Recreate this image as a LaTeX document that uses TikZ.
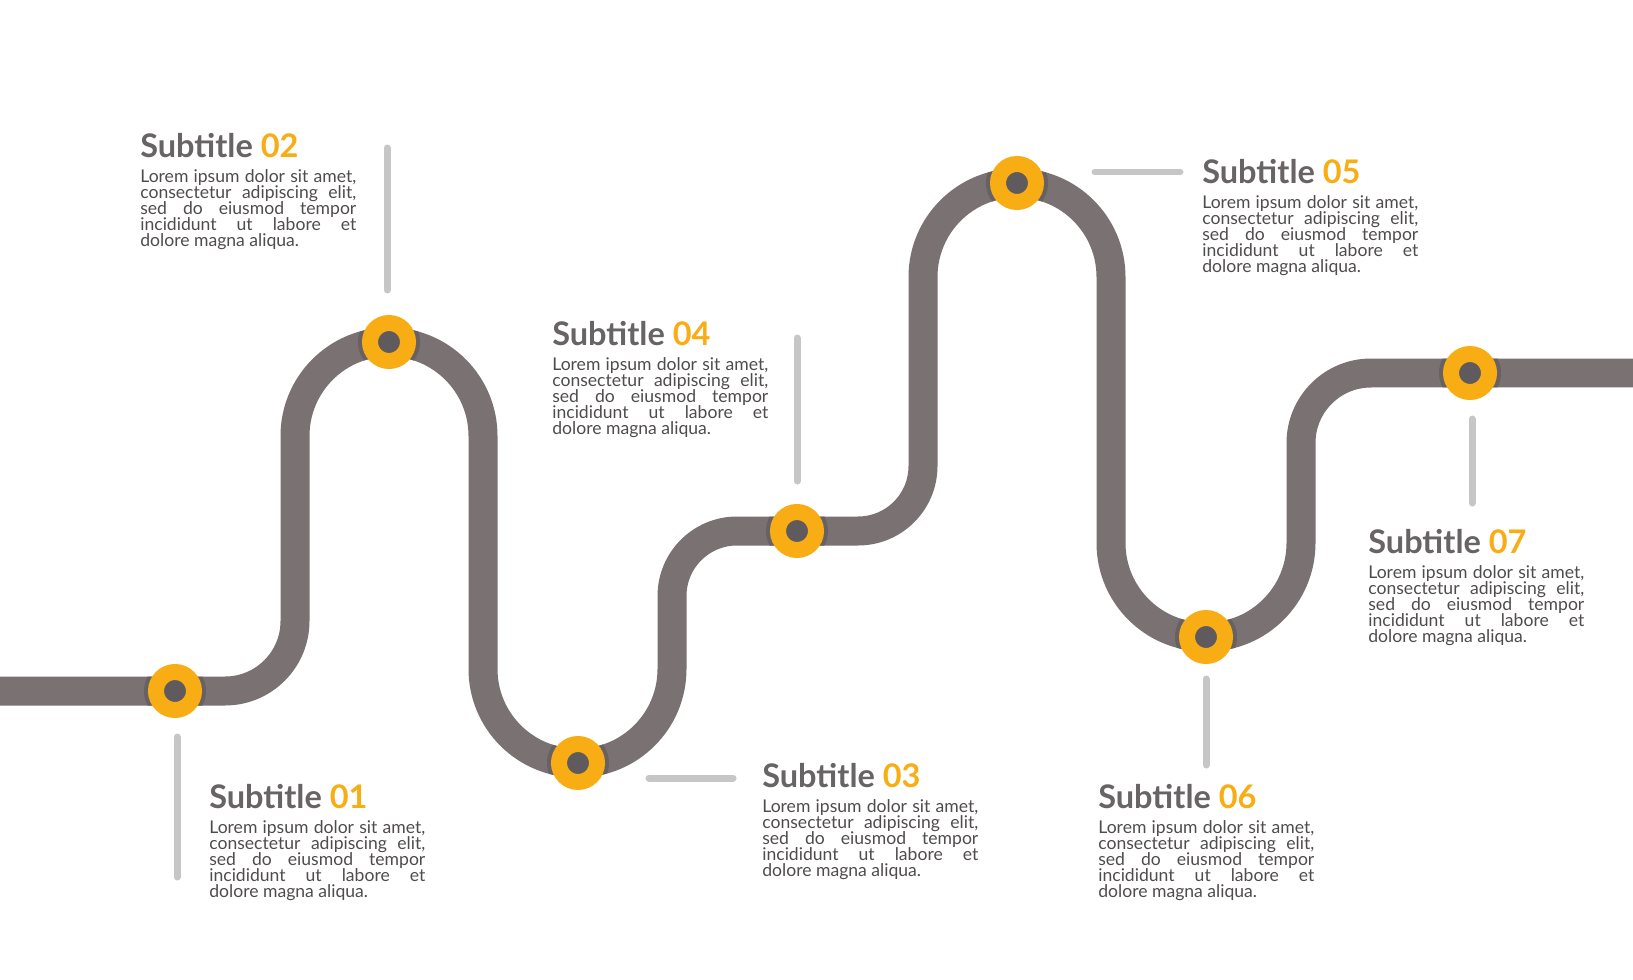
\documentclass[tikz,border=0pt]{standalone}
\usepackage{fontspec}
\setmainfont{Lato}
\usetikzlibrary{positioning}
\definecolor{roadgrey}{RGB}{122,113,115}
\definecolor{halogrey}{RGB}{104,97,99}
\definecolor{dotgrey}{RGB}{94,90,93}
\definecolor{ringorange}{RGB}{249,173,20}
\definecolor{tickgrey}{RGB}{198,198,198}
\definecolor{titlegrey}{RGB}{104,100,101}
\definecolor{bodygrey}{RGB}{80,76,78}
\tolerance=9999
\hbadness=10000
\hfuzz=20pt
\lineskiplimit=-20pt
\normallineskiplimit=-20pt

\newcommand\roadline{(-30,691) [rounded corners=1.4cm] -- (295,691) [rounded corners=1.88cm] -- (295,342) -- (483,342) -- (483,763) -- (672,763) [rounded corners=1.3cm] -- (672,531) -- (923,531) [rounded corners=1.88cm] -- (923,183) -- (1111,183) -- (1111,637) -- (1301,637) [rounded corners=1.4cm] -- (1301,373) -- (1700,373)}
\newcommand\lorem{Lorem ipsum dolor sit amet,\linebreak consectetur adipiscing elit,\linebreak sed do eiusmod tempor\linebreak incididunt ut labore et\linebreak dolore magna aliqua.}

\begin{document}
\begin{tikzpicture}[
  x=0.02cm, y=-0.02cm,
  road/.style={draw=roadgrey, line width=0.58cm},
  stop/.style={circle, fill=dotgrey, draw=ringorange, line width=0.32cm,
               minimum size=0.76cm, inner sep=0pt, outer sep=0pt},
  tick/.style={draw=tickgrey, line width=0.14cm, line cap=round},
  ttl/.style={font=\fontsize{18.5}{20}\selectfont\bfseries, text=titlegrey,
              inner sep=0pt, anchor=base west},
  txt/.style={font=\fontsize{10}{9.07}\selectfont, text=bodygrey,
              text width=4.32cm, align=justify, inner sep=0pt, anchor=north west}
]
  \useasboundingbox[fill=white] (0,0) rectangle (1633,980);

  % the road
  \draw[road] \roadline;
  \foreach \p in {(175,691),(389,342),(578,763),(797,531),(1017,183),(1206,637),(1470,373)}{
    \begin{scope}
      \clip \p circle (31);
      \draw[road, draw=halogrey] \roadline;
    \end{scope}
  }

  % stops
  \node[stop] (n1) at (175,691) {};
  \node[stop] (n2) at (389,342) {};
  \node[stop] (n3) at (578,763) {};
  \node[stop] (n4) at (797,531) {};
  \node[stop] (n5) at (1017,183) {};
  \node[stop] (n6) at (1206,637) {};
  \node[stop] (n7) at (1470,373) {};

  % pointers
  \draw[tick] (n1) ++(2,46) -- ++(0,140);
  \draw[tick] (n2) ++(-2,-52) -- ++(0,-142);
  \draw[tick] (n3) ++(71,15) -- ++(84,0);
  \draw[tick] (n4) ++(0,-50) -- ++(0,-143);
  \draw[tick] (n5) ++(78,-11) -- ++(85,0);
  \draw[tick] (n6) ++(0,42) -- ++(0,86);
  \draw[tick] (n7) ++(2,46) -- ++(0,84);

  % labels
  \node[ttl] (t1) at (209,808) {Subtitle \textcolor{ringorange}{01}};
  \node[txt, below=0.25cm of t1.base west, anchor=north west] (b1) {\lorem};
  \node[ttl] (t2) at (140,157) {Subtitle \textcolor{ringorange}{02}};
  \node[txt, below=0.25cm of t2.base west, anchor=north west] (b2) {\lorem};
  \node[ttl] (t3) at (762,787) {Subtitle \textcolor{ringorange}{03}};
  \node[txt, below=0.25cm of t3.base west, anchor=north west] (b3) {\lorem};
  \node[ttl] (t4) at (552,345) {Subtitle \textcolor{ringorange}{04}};
  \node[txt, below=0.25cm of t4.base west, anchor=north west] (b4) {\lorem};
  \node[ttl] (t5) at (1202,183) {Subtitle \textcolor{ringorange}{05}};
  \node[txt, below=0.25cm of t5.base west, anchor=north west] (b5) {\lorem};
  \node[ttl] (t6) at (1098,808) {Subtitle \textcolor{ringorange}{06}};
  \node[txt, below=0.25cm of t6.base west, anchor=north west] (b6) {\lorem};
  \node[ttl] (t7) at (1368,553) {Subtitle \textcolor{ringorange}{07}};
  \node[txt, below=0.25cm of t7.base west, anchor=north west] (b7) {\lorem};
\end{tikzpicture}
\end{document}
